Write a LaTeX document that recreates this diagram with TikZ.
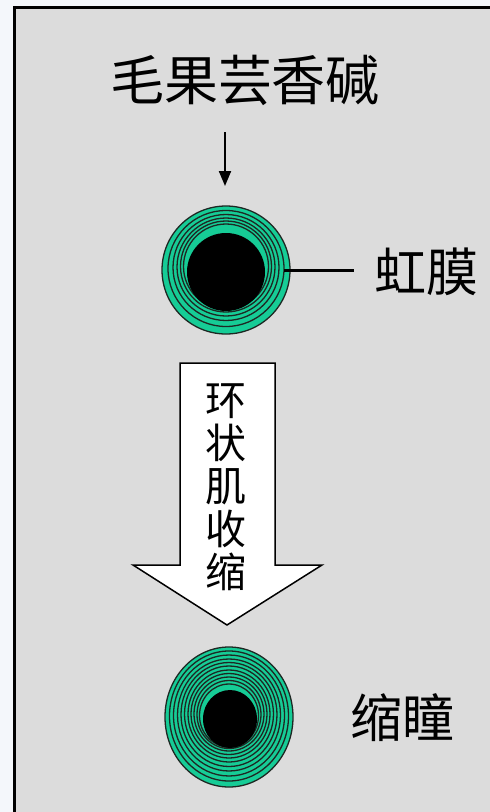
\documentclass[tikz,border=0pt]{standalone}
\usepackage{fontspec}
\newfontfamily\cjk{Noto Sans CJK SC}
\usetikzlibrary{arrows.meta,shapes.geometric}
\definecolor{pagebg}{RGB}{244,247,251}
\definecolor{panelgray}{RGB}{220,220,220}
\definecolor{irisgreen}{RGB}{22,204,150}
\definecolor{ringline}{RGB}{30,40,35}
\tikzset{
  label text/.style={font=\cjk\fontsize{52}{54}\selectfont, inner sep=0pt},
  title text/.style={font=\cjk\fontsize{54}{56}\selectfont, inner sep=0pt},
  arrow text/.style={font=\cjk\fontsize{41}{43}\selectfont, inner sep=0pt, align=center},
  ring/.style={draw=ringline, line width=1.3pt, fill=irisgreen},
  pupil/.style={fill=black},
  leader/.style={line width=3pt},
  bigarrow/.style={draw=black, line width=1.5pt, fill=white, line join=miter},
}
\begin{document}
\begin{tikzpicture}[x=1pt,y=-1pt]
\useasboundingbox (0,0) rectangle (490,812);
% page and grey panel
\fill[pagebg] (0,0) rectangle (490,812);
\fill[panelgray] (14.5,7.5) rectangle (500,820);
\draw[line width=3pt] (14.5,820) -- (14.5,7.5) -- (500,7.5);

% drug name and its arrow
\node[title text] (title) at (245,80) {毛果芸香碱};
\coordinate (dropstart) at (225,132);
\coordinate (dropend) at (225,186);
\draw[line width=2pt, -{Triangle[width=12pt,length=15pt]}] (dropstart) -- (dropend);

% upper eye: normal pupil
\node[circle, minimum size=128pt, inner sep=0pt] (iris1) at (226,270) {};
\foreach \r/\dy in {64/0,58/-1.5,53/-2.5,49/-3,45.5/-3.5,42.5/-3.5}{
  \filldraw[ring] (226,270+\dy) circle (\r);
}
\fill[pupil] (226,272) circle (39);
\coordinate (leaderend) at (354,270);
\draw[leader] (iris1.east) ++(-6,0) -- (leaderend);
\node[label text, anchor=west] (iris label) at (374,272) {虹膜};

% hollow arrow with vertical caption
\draw[bigarrow] (180,363) -- (275,363) -- (275,565) -- (322,565) -- (227,625)
  -- (133,565) -- (180,565) -- cycle;
\node[arrow text] (contract) at (226,487) {环\\状\\肌\\收\\缩};

% lower eye: constricted pupil
\node[ellipse, minimum width=128pt, minimum height=140pt, inner sep=0pt] (iris2) at (229,717) {};
\foreach \rx/\ry/\dy in {64/70/0,59.5/65/-1,55.5/60.5/-1.5,51.5/56/-2,48/52/-2.5,44.5/48/-3,41/44/-3,38/40.5/-3,35/37/-3,32/34/-2.5,29.5/31.5/-1.5}{
  \filldraw[ring] (229,717+\dy) ellipse [x radius=\rx, y radius=\ry];
}
\fill[pupil] (230,719) ellipse [x radius=27, y radius=29];
\node[label text, anchor=west] (miosis) at (350,718) {缩瞳};
\end{tikzpicture}
\end{document}
